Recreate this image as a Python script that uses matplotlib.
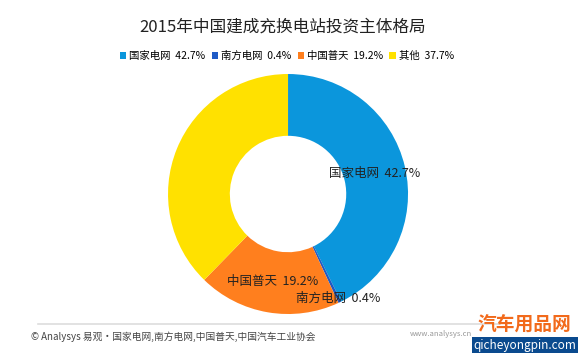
import matplotlib.pyplot as plt
import numpy as np
from matplotlib.patches import Patch

plt.rcParams['font.family'] = ['Noto Sans CJK SC', 'DejaVu Sans']

# data
names = ['国家电网', '南方电网', '中国普天', '其他']
shares = [42.7, 0.4, 19.2, 37.7]
colors = ['#0B96DC', '#1F5BC6', '#FF7F1E', '#FFE100']
label_radius = [0.74, 0.96, 0.74, None]   # 其他 has no label in the ring

fig = plt.figure(figsize=(5.8, 3.57), dpi=100)
fig.patch.set_facecolor('white')

fig.text(0.488, 1 - 27 / 357, '2015年中国建成充换电站投资主体格局', ha='center', va='center',
         fontsize=12, color='#222222')

# donut
ax = fig.add_axes([0.2897, 0.1204, 0.4138, 0.6723])
wedges, _ = ax.pie(shares, colors=colors, startangle=90, counterclock=False,
                   radius=1.0, wedgeprops=dict(width=0.515, linewidth=0))
ax.set_xlim(-1, 1)
ax.set_ylim(-1, 1)
ax.set_aspect('equal')
ax.axis('off')

for w, n, s, r in zip(wedges, names, shares, label_radius):
    if r is None:
        continue
    mid = np.deg2rad((w.theta1 + w.theta2) / 2)
    ax.text(r * np.cos(mid), r * np.sin(mid), f'{n}  {s}%', ha='center', va='center',
            fontsize=9, color='#222222', clip_on=False)

# legend
handles = [Patch(facecolor=c, edgecolor='none') for c in colors]
labels = [f'{n}  {s}%' for n, s in zip(names, shares)]
fig.legend(handles, labels, loc='center', bbox_to_anchor=(287 / 580, 1 - 56 / 357), ncol=4,
           frameon=False, fontsize=7.5, handlelength=0.6, handleheight=0.6,
           handletextpad=0.3, columnspacing=0.6, borderpad=0)

# source line + text
fig.add_artist(plt.Line2D([38 / 580, 500 / 580], [1 - 324 / 357, 1 - 324 / 357],
                          color='#DDDDDD', linewidth=1.2))
fig.text(31 / 580, 1 - 337 / 357, '© Analysys 易观·国家电网,南方电网,中国普天,中国汽车工业协会',
         ha='left', va='center', fontsize=7, color='#444444')
fig.text(472 / 580, 1 - 334 / 357, 'www.analysys.cn', ha='right', va='center',
         fontsize=5.5, color='#999999')

# watermark
fig.text(524 / 580, 1 - 325 / 357, '汽车用品网', ha='center', va='center',
         fontsize=13.5, fontweight='bold', color='#F26A1B')
fig.text(525 / 580, 1 - 345 / 357, 'qicheyongpin.com', ha='center', va='center',
         fontsize=8.5, color='white',
         bbox=dict(boxstyle='square,pad=0.1', facecolor='#0A4A8E', edgecolor='none'))

fig.savefig('out.png', dpi=100)
